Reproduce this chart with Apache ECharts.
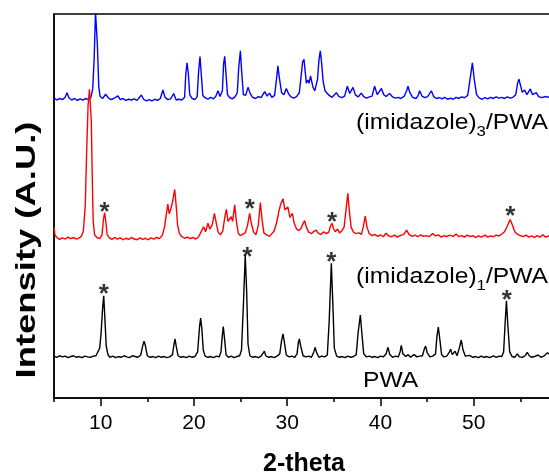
<!DOCTYPE html>
<html>
<head>
<meta charset="utf-8">
<title>XRD</title>
<script src="https://cdn.jsdelivr.net/npm/echarts/dist/echarts.min.js"></script>
<style>
html, body { margin: 0; padding: 0; background: #fff; }
#main { width: 549px; height: 472px; }
</style>
</head>
<body>
<div id="main"></div>
<script type="text/javascript">
// 2-theta / intensity pairs (arbitrary units, offset per trace)
var pwaPoints = [[5.0,10.9],[5.3,10.6],[5.6,11.0],[5.9,10.7],[6.2,10.9],[6.5,10.5],[6.8,10.8],[7.1,11.0],[7.4,10.6],[7.7,10.8],[8.0,10.5],[8.3,10.9],[8.6,10.7],[8.9,10.6],[9.2,10.9],[9.5,11.0],[9.7,11.4],[9.9,13.0],[10.05,17],[10.2,23],[10.33,26.6],[10.45,21],[10.6,13.5],[10.8,11.2],[11.0,10.6],[11.3,10.9],[11.6,10.5],[11.9,10.8],[12.2,10.6],[12.5,11.0],[12.8,10.7],[13.1,10.5],[13.4,11.0],[13.7,10.8],[14.0,10.6],[14.3,11.2],[14.5,13.5],[14.65,14.8],[14.8,13.6],[15.0,11.0],[15.3,10.6],[15.6,10.8],[15.9,10.5],[16.2,10.9],[16.5,10.6],[16.8,10.8],[17.1,10.5],[17.4,10.7],[17.7,11.3],[17.85,13.8],[17.97,15.4],[18.1,13.5],[18.3,11.0],[18.6,10.6],[18.9,10.8],[19.2,10.5],[19.5,10.9],[19.8,10.6],[20.1,10.8],[20.4,12.0],[20.6,18.5],[20.72,20.8],[20.85,18],[21.0,12.5],[21.2,10.9],[21.5,10.6],[21.8,10.8],[22.1,10.5],[22.4,10.9],[22.7,10.7],[22.9,12.0],[23.05,16.5],[23.15,18.6],[23.3,15],[23.45,11.2],[23.7,10.6],[24.0,10.9],[24.3,10.5],[24.6,10.8],[24.9,11.0],[25.1,12.5],[25.3,24],[25.5,37.2],[25.65,28],[25.8,14],[26.0,11.0],[26.3,10.6],[26.6,10.8],[26.9,10.5],[27.2,10.9],[27.4,11.2],[27.55,12.2],[27.7,11.0],[28.0,10.6],[28.3,10.8],[28.6,10.5],[28.9,10.9],[29.2,11.5],[29.4,15],[29.55,16.7],[29.7,14.5],[29.9,11.2],[30.2,10.7],[30.5,10.9],[30.8,10.6],[31.05,11.5],[31.2,14.5],[31.3,15.4],[31.45,13.5],[31.7,11.0],[32.0,10.7],[32.3,10.9],[32.6,10.6],[32.85,12.0],[33.0,13.2],[33.15,11.8],[33.4,10.6],[33.7,10.9],[34.0,10.7],[34.3,11.2],[34.5,20],[34.73,35.1],[34.9,24],[35.05,13],[35.3,10.9],[35.6,10.6],[35.9,10.8],[36.2,10.5],[36.5,10.9],[36.8,10.6],[37.1,10.8],[37.4,11.3],[37.6,17],[37.84,21.6],[38.0,17],[38.2,11.5],[38.5,10.7],[38.8,10.9],[39.1,10.6],[39.4,10.8],[39.7,10.5],[40.0,10.9],[40.3,10.7],[40.6,11.5],[40.8,13.2],[41.0,11.3],[41.3,10.6],[41.6,10.9],[41.9,10.7],[42.1,12.0],[42.23,13.7],[42.4,11.5],[42.7,10.8],[42.98,11.3],[43.2,10.6],[43.6,11.3],[43.9,10.7],[44.2,10.9],[44.5,11.0],[44.7,12.8],[44.84,13.5],[45.0,11.8],[45.3,10.7],[45.6,10.9],[45.9,11.5],[46.05,16],[46.2,18.5],[46.35,15.5],[46.55,11.3],[46.8,10.7],[47.1,10.9],[47.35,11.8],[47.52,12.7],[47.7,11.3],[48.0,12.2],[48.2,11.0],[48.45,13],[48.66,15.1],[48.85,12.5],[49.1,10.9],[49.55,11.1],[49.9,10.6],[50.2,10.8],[50.5,10.5],[50.8,10.9],[51.1,10.6],[51.4,10.8],[51.7,10.5],[52.1,11.0],[52.4,10.6],[52.7,10.9],[53.0,10.8],[53.2,12],[53.35,19],[53.5,25.3],[53.65,19],[53.85,12],[54.1,10.8],[54.4,10.6],[54.67,11.5],[54.9,10.7],[55.2,10.6],[55.5,11.0],[55.74,11.9],[55.95,11.0],[56.2,10.6],[56.5,10.8],[56.9,11.2],[57.2,10.6],[57.5,10.9],[57.9,11.8],[58.3,11.0],[58.6,10.8]];

var imid1Points = [[5.0,44.5],[5.1,42.5],[5.3,41.8],[5.6,41.3],[5.9,41.7],[6.2,41.4],[6.5,41.9],[6.8,41.5],[7.1,41.8],[7.4,41.4],[7.7,41.7],[7.95,42.2],[8.15,43.5],[8.35,50],[8.5,64],[8.65,76],[8.8,80.4],[8.9,80.0],[9.0,72],[9.1,58],[9.2,46],[9.35,42.5],[9.6,41.8],[9.9,41.5],[10.15,42.5],[10.3,46.5],[10.43,48.3],[10.55,46],[10.7,42.5],[10.95,41.7],[11.2,41.3],[11.5,41.8],[11.8,41.4],[12.1,41.7],[12.4,41.2],[12.7,41.6],[13.0,41.3],[13.3,41.8],[13.6,41.4],[13.9,41.2],[14.2,41.7],[14.5,41.3],[14.8,41.6],[15.1,41.2],[15.4,41.7],[15.7,41.4],[16.0,41.8],[16.3,41.5],[16.6,42.3],[16.85,44.5],[17.05,48],[17.2,50.5],[17.35,48],[17.5,49],[17.7,51],[17.94,54.3],[18.1,50],[18.25,45],[18.45,42.8],[18.7,42.0],[19.0,41.6],[19.3,41.9],[19.6,41.5],[19.9,41.8],[20.2,41.4],[20.5,42.0],[20.75,43.2],[21.04,44.6],[21.25,43.3],[21.5,45.5],[21.7,44.0],[21.95,45],[22.2,48.1],[22.4,45.5],[22.6,43.2],[22.85,42.5],[23.1,43.5],[23.3,47],[23.48,49.1],[23.65,46],[23.85,45.5],[24.0,47.2],[24.15,46],[24.37,50.3],[24.55,46],[24.75,43],[24.95,42.3],[25.2,42.6],[25.5,43],[25.75,45],[25.97,48.1],[26.15,45.5],[26.4,43.2],[26.65,42.5],[26.9,45],[27.12,50.9],[27.3,46.5],[27.5,43],[27.8,42.5],[28.1,42.1],[28.35,42.8],[28.6,43.5],[28.85,45.5],[29.1,48.5],[29.3,50.5],[29.55,51.9],[29.75,49],[29.9,48.5],[30.08,49.7],[30.3,47],[30.55,48.1],[30.75,45.5],[31.0,44],[31.25,43.6],[31.5,44.2],[31.7,45.5],[31.87,46.2],[32.05,44.5],[32.3,43.2],[32.6,42.8],[32.85,43.4],[33.1,43.7],[33.3,43.0],[33.6,42.6],[33.9,43.3],[34.2,42.8],[34.45,43.2],[34.65,44.8],[34.8,45.5],[34.95,44.2],[35.15,43.3],[35.4,44.0],[35.6,43.0],[35.85,43.5],[36.1,44.5],[36.3,49],[36.5,53.3],[36.65,49],[36.85,44.5],[37.1,43.2],[37.4,42.8],[37.7,43.0],[37.95,42.6],[38.15,44.5],[38.37,47.4],[38.55,44.5],[38.8,42.8],[39.1,42.3],[39.4,42.6],[39.7,42.1],[40.0,42.5],[40.3,42.0],[40.6,42.9],[40.9,42.2],[41.2,42.0],[41.5,42.4],[41.8,41.9],[42.1,42.3],[42.5,42.6],[42.8,43.7],[43.05,42.6],[43.4,42.1],[43.7,42.4],[44.0,42.0],[44.3,42.5],[44.6,42.1],[44.9,42.3],[45.2,42.0],[45.6,42.8],[45.9,42.2],[46.2,42.5],[46.5,41.9],[46.8,42.3],[47.1,42.0],[47.4,42.4],[47.8,42.1],[48.1,42.7],[48.4,42.0],[48.7,42.3],[49.0,41.9],[49.3,42.4],[49.6,42.0],[49.9,42.3],[50.2,41.8],[50.5,42.2],[50.8,41.9],[51.2,42.4],[51.5,41.9],[51.8,42.2],[52.1,42.0],[52.4,42.4],[52.7,42.2],[53.0,42.7],[53.3,43.3],[53.6,44.8],[53.9,46.5],[54.15,45],[54.4,43.3],[54.7,42.6],[55.0,42.3],[55.3,42.0],[55.6,42.4],[55.9,41.9],[56.2,42.2],[56.5,41.8],[56.8,42.3],[57.1,41.9],[57.4,42.5],[57.7,41.9],[58.0,42.2],[58.3,41.9],[58.6,42.1]];

var imid3Points = [[5.0,78.2],[5.3,77.6],[5.6,78.0],[5.9,77.7],[6.2,78.3],[6.4,79.5],[6.6,78.2],[6.9,77.6],[7.2,78.0],[7.5,77.5],[7.8,77.9],[8.1,77.6],[8.4,78.0],[8.7,77.7],[8.95,78.3],[9.15,80.5],[9.3,88],[9.45,100.5],[9.55,100.5],[9.65,92],[9.8,81],[9.95,78.5],[10.2,78.0],[10.54,79.1],[10.8,78.2],[11.1,77.7],[11.4,78.0],[11.6,77.6],[11.86,78.7],[12.1,77.7],[12.4,78.0],[12.7,77.5],[13.0,77.8],[13.3,77.6],[13.6,77.9],[13.9,77.5],[14.1,78.0],[14.37,78.9],[14.6,77.8],[14.9,77.4],[15.2,77.7],[15.5,77.4],[15.8,77.8],[16.1,77.5],[16.4,78.0],[16.68,80.2],[16.9,78.3],[17.2,77.7],[17.5,77.9],[17.83,79.3],[18.1,77.6],[18.4,77.8],[18.7,77.6],[19.0,78.3],[19.12,84],[19.26,87.3],[19.4,84.5],[19.55,79],[19.8,78.0],[20.1,77.7],[20.35,78.5],[20.5,85],[20.65,88.9],[20.8,84],[20.95,78.8],[21.2,78.2],[21.5,77.8],[21.8,78.3],[22.1,77.9],[22.35,78.6],[22.58,80.0],[22.8,78.5],[23.05,80],[23.18,87],[23.3,89],[23.42,85],[23.6,79],[23.85,78.2],[24.1,77.9],[24.4,78.4],[24.65,79.5],[24.8,86],[24.98,90.4],[25.12,85],[25.3,79],[25.55,78.8],[25.8,80.9],[26.05,79.2],[26.3,78.3],[26.6,78.0],[26.9,78.5],[27.2,78.2],[27.58,79.8],[27.85,78.6],[28.1,79.4],[28.35,78.3],[28.65,78.8],[28.85,83],[29.0,86.5],[29.15,83.5],[29.4,79.5],[29.65,79.0],[29.9,80.6],[30.15,79.2],[30.4,78.4],[30.7,78.1],[31.0,78.5],[31.3,79.5],[31.5,84],[31.65,87.5],[31.8,88.2],[31.95,84.5],[32.05,82],[32.2,82.8],[32.35,82],[32.5,83.9],[32.6,83.9],[32.75,81],[32.95,80],[33.25,83],[33.4,88],[33.55,90.4],[33.7,87],[33.85,82.5],[34.05,80],[34.26,80.2],[34.5,78.8],[34.8,78.3],[35.0,78.6],[35.27,79.5],[35.55,78.5],[35.85,78.2],[36.15,78.6],[36.45,81.2],[36.7,79.3],[37.05,80.9],[37.3,79.0],[37.6,78.4],[37.95,79.4],[38.2,78.5],[38.5,78.1],[38.8,78.4],[39.1,78.6],[39.37,81.2],[39.65,79.0],[39.85,79.3],[40.1,80.6],[40.35,79.0],[40.6,78.5],[40.98,79.3],[41.3,78.4],[41.6,78.1],[41.9,78.3],[42.2,78.0],[42.55,78.6],[42.8,80],[42.95,81.2],[43.15,79.5],[43.45,78.3],[43.8,78.0],[44.0,78.6],[44.2,80.0],[44.45,78.6],[44.75,78.2],[45.05,78.5],[45.25,79.2],[45.45,80.0],[45.7,78.5],[46.0,78.0],[46.3,78.2],[46.6,77.9],[46.9,78.3],[47.2,77.8],[47.5,78.1],[47.8,77.8],[48.1,78.3],[48.4,78.0],[48.7,78.4],[49.0,78.2],[49.35,78.8],[49.6,83],[49.85,87.3],[50.05,83],[50.3,79],[50.6,78.1],[50.9,77.8],[51.2,78.2],[51.5,77.9],[51.8,78.3],[52.1,78.0],[52.4,78.4],[52.7,78.1],[53.0,78.3],[53.3,78.0],[53.6,78.4],[53.9,78.1],[54.2,78.3],[54.5,79.0],[54.7,82],[54.84,83.0],[55.0,81.5],[55.2,79.6],[55.45,80.2],[55.7,79.0],[55.85,79.4],[56.06,80.5],[56.3,79.0],[56.5,78.6],[56.7,79.5],[56.95,78.5],[57.3,78.2],[57.6,78.5],[57.8,79.0],[58.1,78.3],[58.4,78.2],[58.6,78.4]];

// asterisk marks (PWA reflections)
var starPoints = [[10.43,49.7],[25.98,50.5],[34.8,47.1],[53.92,48.8],[10.33,28.4],[25.73,38.1],[34.73,36.8],[53.55,26.8]];

var majorTicks = [10, 20, 30, 40, 50];
var minorTicks = [5, 15, 25, 35, 45, 55];

var myChart = echarts.init(document.getElementById('main'));
var font = 'Arial, "Liberation Sans", sans-serif';

var option = {
	animation : false,
	backgroundColor : '#fff',
	grid : {
		left : 54,
		right : -5,
		top : 14,
		bottom : 74,
		outerBoundsMode : 'none',
		show : true,
		borderColor : '#000',
		borderWidth : 1.5
	},
	xAxis : [ {
		type : 'value',
		min : 5,
		max : 58.6,
		position : 'bottom',
		name : '2-theta',
		nameLocation : 'middle',
		nameGap : 54,
		nameTextStyle : {
			fontFamily : font,
			fontSize : 25,
			fontWeight : 'bold',
			color : '#000'
		},
		axisLine : {
			lineStyle : { color : '#000', width : 1.5 }
		},
		axisTick : {
			customValues : majorTicks,
			length : 8,
			lineStyle : { color : '#000', width : 1.5 }
		},
		axisLabel : {
			customValues : majorTicks,
			margin : 15,
			fontFamily : font,
			fontSize : 21,
			color : '#000'
		},
		splitLine : { show : false }
	}, {
		type : 'value',
		min : 5,
		max : 58.6,
		position : 'bottom',
		axisLine : { show : false },
		axisTick : {
			customValues : minorTicks,
			length : 4,
			lineStyle : { color : '#000', width : 1.5 }
		},
		axisLabel : { show : false },
		splitLine : { show : false }
	} ],
	yAxis : {
		type : 'value',
		min : 0,
		max : 100,
		axisLine : {
			show : true,
			lineStyle : { color : '#000', width : 1.5 }
		},
		axisTick : { show : false },
		axisLabel : { show : false },
		splitLine : { show : false }
	},
	series : [ {
		name : 'PWA',
		type : 'line',
		data : pwaPoints,
		showSymbol : false,
		lineStyle : { color : '#000', width : 1.4 },
		z : 2
	}, {
		name : '(imidazole)3/PWA',
		type : 'line',
		data : imid3Points,
		showSymbol : false,
		lineStyle : { color : '#0000ff', width : 1.4 },
		z : 2
	}, {
		name : '(imidazole)1/PWA',
		type : 'line',
		data : imid1Points,
		showSymbol : false,
		lineStyle : { color : '#ff0000', width : 1.4 },
		z : 3
	}, {
		type : 'scatter',
		data : starPoints,
		symbolSize : 2,
		itemStyle : { color : 'rgba(0,0,0,0)' },
		silent : true,
		label : {
			show : true,
			position : [1, 7],
			align : 'center',
			verticalAlign : 'middle',
			formatter : '*',
			fontFamily : font,
			fontSize : 26,
			fontWeight : 'bold',
			color : '#000'
		},
		labelLayout : { hideOverlap : false },
		z : 5
	} ]
};
myChart.setOption(option);

// curve names drawn as plain text, subscripts via rich text
var rich = {
	a : { fontFamily : font, fontSize : 22, lineHeight : 32, color : '#000', verticalAlign : 'middle' },
	s : { fontFamily : font, fontSize : 15, lineHeight : 16, color : '#000', verticalAlign : 'bottom' }
};
myChart.setOption({
	graphic : [ {
		type : 'text',
		x : 27,
		y : 250,
		rotation : Math.PI / 2,
		scaleX : 1.3,
		style : {
			text : 'Intensity (A.U.)',
			font : 'bold 28px ' + font,
			fill : '#000',
			align : 'center',
			verticalAlign : 'middle'
		}
	}, {
		type : 'text',
		x : 548,
		y : 123,
		scaleX : 1.12,
		style : {
			text : '{a|(imidazole)}{s|3}{a|/PWA}',
			rich : rich,
			align : 'right',
			verticalAlign : 'middle'
		}
	}, {
		type : 'text',
		x : 548,
		y : 277,
		scaleX : 1.12,
		style : {
			text : '{a|(imidazole)}{s|1}{a|/PWA}',
			rich : rich,
			align : 'right',
			verticalAlign : 'middle'
		}
	}, {
		type : 'text',
		x : 363,
		y : 381,
		scaleX : 1.12,
		style : {
			text : 'PWA',
			font : '22px ' + font,
			fill : '#000',
			align : 'left',
			verticalAlign : 'middle'
		}
	} ]
});
</script>
</body>
</html>
